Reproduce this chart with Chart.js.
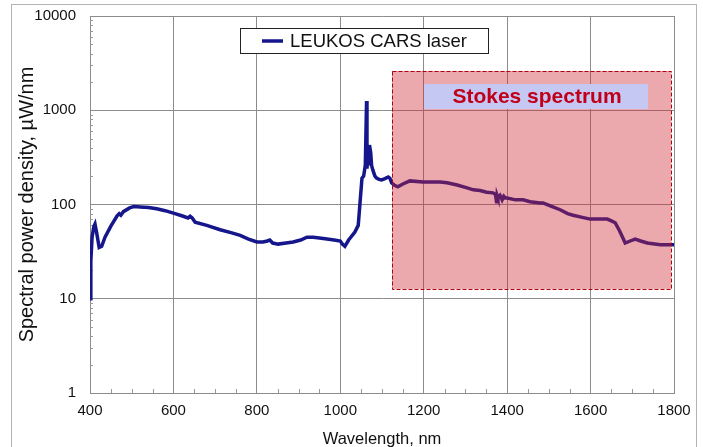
<!DOCTYPE html>
<html lang="en">
<head>
  <meta charset="UTF-8" />
  <title>LEUKOS CARS laser spectrum</title>
  <script src="https://cdn.jsdelivr.net/npm/chart.js"></script>
  <style>
    body {
      margin: 0;
      background: #ffffff;
    }
    #chart {
      display: block;
    }
  </style>
</head>
<body>
  <canvas id="chart" width="703" height="447"></canvas>

  <script>
    // spectrum (nm, µW/nm)
    const wavelengths = [
      400, 402, 405, 409, 412, 416, 422, 428, 436, 450, 465, 470, 474, 480, 495, 505, 520,
      540, 560, 580, 600, 620, 635, 640, 645, 652, 680, 712, 740, 760, 780, 800, 815, 825,
      831, 838, 851, 870, 887, 905, 920, 935, 950, 968, 985, 1000, 1005, 1011, 1020, 1035,
      1043, 1047, 1052, 1056, 1060, 1063, 1064, 1066, 1068, 1070, 1073, 1075, 1078, 1083,
      1087, 1093, 1099, 1107, 1115, 1119, 1123, 1130, 1138, 1150, 1167, 1198, 1239, 1256,
      1280, 1304, 1319, 1335, 1351, 1366, 1372, 1375, 1376, 1378, 1383, 1388, 1392, 1396,
      1400, 1420, 1438, 1455, 1479, 1486, 1505, 1527, 1545, 1558, 1580, 1599, 1620, 1640,
      1650, 1659, 1670, 1683, 1695, 1707, 1720, 1736, 1767, 1800
    ];
    const powerDensity = [
      10, 25, 45, 58, 62, 50, 35, 36, 45, 59, 76, 80, 77, 84, 92, 95, 94,
      93, 90, 86, 81, 76, 72, 75, 72, 65, 60, 54, 50, 47, 43, 40, 40, 41,
      42, 39, 38, 39, 40, 42, 45, 45, 44, 43, 42, 41, 38, 36, 42, 51,
      60, 100, 190, 200, 260, 1255, 240, 330, 260, 428, 352, 260, 233, 200,
      191, 185, 182, 188, 196, 190, 170, 160, 154, 165, 178, 173, 173, 170,
      161, 150, 143, 141, 135, 133, 128, 103, 125, 118, 125, 112, 122, 117,
      117, 112, 112, 107, 104, 104, 96, 88, 80, 77, 73, 70, 70, 70,
      67, 64, 52, 39, 41, 43, 41, 39, 37.5, 37.5
    ];

    const xTicks = [400, 600, 800, 1000, 1200, 1400, 1600, 1800];
    const yTicks = [1, 10, 100, 1000, 10000];

    // shaded Stokes band (data coordinates)
    const stokesX = [1124, 1793];
    const stokesY = [12.7, 2612];

    const seriesLabel = 'LEUKOS CARS laser';
    const bandLabel = 'Stokes spectrum';

    const fontFamily = "'Liberation Sans', Arial, sans-serif";
    const lineColor = '#16168c';
    const gridColor = '#8c8c8c';

    const decorPlugin = {
      id: 'decor',
      beforeDraw(chart) {
        const ctx = chart.ctx;
        ctx.save();
        ctx.fillStyle = '#ffffff';
        ctx.fillRect(0, 0, chart.width, chart.height);
        ctx.strokeStyle = '#b4b4b4';
        ctx.lineWidth = 1;
        ctx.strokeRect(11.5, 4.5, 685, 470);
        ctx.restore();
      },
      beforeDatasetsDraw(chart) {
        // minor tick marks
        const { ctx, scales: { x, y }, chartArea } = chart;
        ctx.save();
        ctx.strokeStyle = '#999';
        ctx.lineWidth = 1;
        ctx.beginPath();
        for (let d = 1; d < 10000; d *= 10) {
          for (let m = 2; m <= 9; m++) {
            const py = Math.round(y.getPixelForValue(d * m)) + 0.5;
            ctx.moveTo(chartArea.left, py);
            ctx.lineTo(chartArea.left + 3, py);
          }
        }
        for (let v = 450; v < 1800; v += 50) {
          if (v % 200 === 0) continue;
          const px = Math.round(x.getPixelForValue(v)) + 0.5;
          ctx.moveTo(px, chartArea.bottom);
          ctx.lineTo(px, chartArea.bottom - 4);
        }
        ctx.stroke();
        ctx.restore();
      },
      afterDatasetsDraw(chart) {
        const { ctx, scales: { x, y } } = chart;
        const x1 = x.getPixelForValue(stokesX[0]);
        const x2 = x.getPixelForValue(stokesX[1]);
        const y1 = y.getPixelForValue(stokesY[1]);
        const y2 = y.getPixelForValue(stokesY[0]);
        ctx.save();
        ctx.fillStyle = 'rgba(205, 40, 50, 0.40)';
        ctx.fillRect(x1, y1, x2 - x1, y2 - y1);
        ctx.strokeStyle = '#b00010';
        ctx.lineWidth = 1;
        ctx.setLineDash([4, 2]);
        ctx.strokeRect(Math.round(x1) + 0.5, Math.round(y1) + 0.5, Math.round(x2 - x1), Math.round(y2 - y1));
        ctx.setLineDash([]);

        // label box for the band
        ctx.fillStyle = '#c5c8f2';
        ctx.fillRect(424, 84, 224, 25);
        ctx.fillStyle = '#c0001a';
        ctx.font = 'bold 21px ' + fontFamily;
        ctx.textAlign = 'center';
        ctx.textBaseline = 'middle';
        ctx.fillText(bandLabel, 537, 97);

        // legend
        ctx.fillStyle = '#ffffff';
        ctx.fillRect(240, 28, 248, 25);
        ctx.strokeStyle = '#222';
        ctx.strokeRect(240.5, 28.5, 248, 25);
        ctx.strokeStyle = lineColor;
        ctx.lineWidth = 3.5;
        ctx.beginPath();
        ctx.moveTo(262, 41);
        ctx.lineTo(283, 41);
        ctx.stroke();
        ctx.fillStyle = '#111';
        ctx.font = '18.5px ' + fontFamily;
        ctx.textAlign = 'left';
        ctx.fillText(seriesLabel, 290, 42);
        ctx.restore();
      }
    };

    new Chart(document.getElementById('chart'), {
      type: 'line',
      data: {
        labels: wavelengths,
        datasets: [{
          label: seriesLabel,
          data: wavelengths.map((w, i) => ({ x: w, y: powerDensity[i] })),
          borderColor: lineColor,
          borderWidth: 3.5,
          pointRadius: 0,
          tension: 0,
          fill: false
        }]
      },
      options: {
        responsive: false,
        animation: false,
        layout: { padding: { top: 16, right: 29, bottom: 0, left: 0 } },
        plugins: {
          legend: { display: false },
          tooltip: { enabled: false }
        },
        scales: {
          x: {
            type: 'linear',
            min: 400,
            max: 1800,
            afterFit: s => { s.height = 54; },
            afterBuildTicks: s => { s.ticks = xTicks.map(v => ({ value: v })); },
            ticks: {
              color: '#111',
              padding: 9,
              font: { family: fontFamily, size: 15 },
              maxRotation: 0,
              callback: v => String(v)
            },
            grid: { color: gridColor, drawTicks: false },
            border: { color: gridColor },
            title: {
              display: true,
              text: 'Wavelength, nm',
              color: '#111',
              font: { family: fontFamily, size: 16.5 },
              padding: { top: 0, bottom: -2 }
            }
          },
          y: {
            type: 'logarithmic',
            min: 1,
            max: 10000,
            afterFit: s => {
              s.width = 90;
              s.paddingTop = 0;
              s.paddingBottom = 0;
            },
            afterBuildTicks: s => { s.ticks = yTicks.map(v => ({ value: v })); },
            ticks: {
              color: '#111',
              padding: 14,
              font: { family: fontFamily, size: 15 },
              callback: v => String(v)
            },
            grid: { color: gridColor, drawTicks: false },
            border: { color: gridColor },
            title: {
              display: true,
              text: 'Spectral power density, µW/nm',
              color: '#111',
              font: { family: fontFamily, size: 20 },
              padding: { top: 15, bottom: 0 }
            }
          }
        }
      },
      plugins: [decorPlugin]
    });
  </script>
</body>
</html>
